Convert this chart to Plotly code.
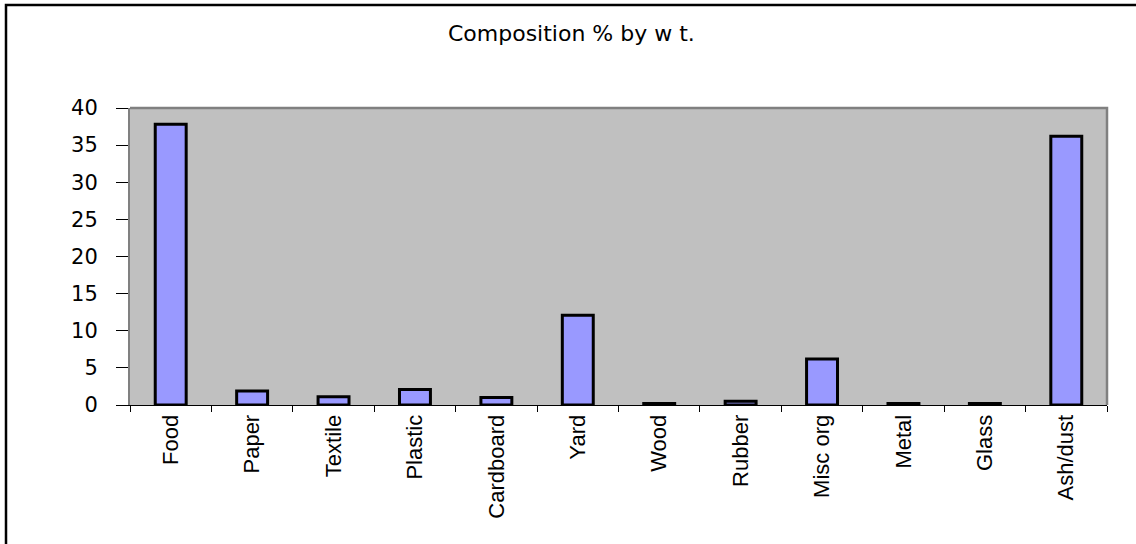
import plotly.graph_objects as go

categories = ["Food", "Paper", "Textile", "Plastic", "Cardboard", "Yard", "Wood",
              "Rubber", "Misc org", "Metal", "Glass", "Ash/dust"]
values = [37.8, 1.9, 1.1, 2.1, 1.0, 12.1, 0.2, 0.5, 6.2, 0.2, 0.2, 36.2]
y_ticks = [0, 5, 10, 15, 20, 25, 30, 35, 40]

W, H = 1136, 544
L, R, T, B = 130, 29, 108, 139
pw, ph = W - L - R, H - T - B

fig = go.Figure()
fig.add_trace(go.Bar(
    x=categories, y=values, width=0.38,
    marker=dict(color="#9999FF", line=dict(color="black", width=3)),
))

def px2paper_x(px):
    return (px - L) / pw

def px2paper_y(py):
    return (H - B - py) / ph

fig.update_layout(
    width=W, height=H,
    margin=dict(l=L, r=R, t=T, b=B),
    paper_bgcolor="white",
    plot_bgcolor="#C0C0C0",
    showlegend=False,
    font=dict(family="DejaVu Sans, Arial, sans-serif", color="black"),
    title=dict(text="Composition % by w t.", x=0.503, xanchor="center",
               y=1 - 33 / H, yanchor="middle",
               font=dict(size=22, color="black", family="DejaVu Sans")),
    xaxis=dict(
        showgrid=False, ticks="outside", ticklen=6, tickcolor="black",
        tickson="boundaries", tickangle=-90, showline=True, linecolor="black",
        linewidth=1, tickfont=dict(size=22, family="Liberation Sans"),
        range=[-0.5, 11.5], ticklabelstandoff=0,
    ),
    yaxis=dict(
        range=[0, 40], tickvals=y_ticks, showgrid=False, zeroline=False,
        ticks="outside", ticklen=12, tickcolor="black", showline=True,
        linecolor="#808080", linewidth=2, tickfont=dict(size=21),
        ticklabelstandoff=14,
    ),
    shapes=[
        dict(type="path", xref="paper", yref="paper",
             path="M 0,1 L 1,1 L 1,0", line=dict(color="#808080", width=2.5)),
        dict(type="rect", xref="paper", yref="paper",
             x0=px2paper_x(6), x1=px2paper_x(1145),
             y0=px2paper_y(560), y1=px2paper_y(5),
             line=dict(color="black", width=2.5), layer="below"),
    ],
)

fig.write_html("out.html", config={"displayModeBar": False},
               post_script="document.body.style.margin='0';document.body.style.overflow='hidden';")
